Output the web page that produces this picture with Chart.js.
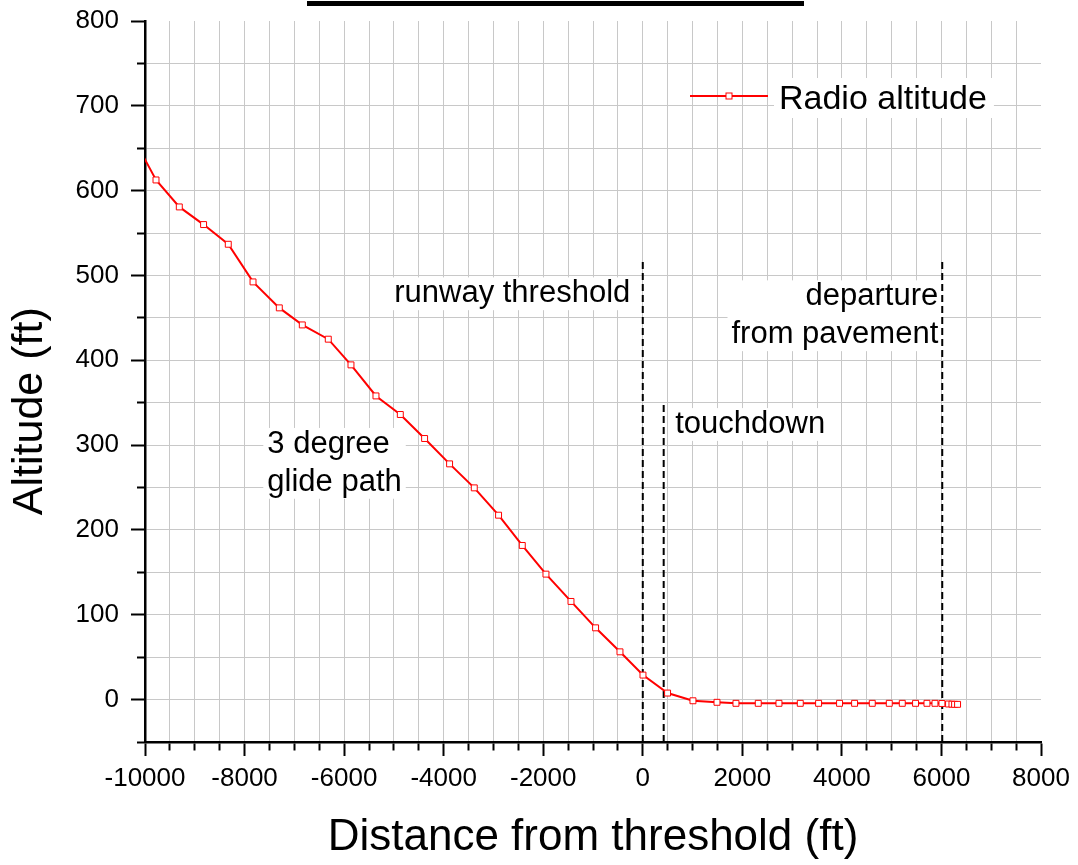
<!DOCTYPE html>
<html>
<head>
<meta charset="utf-8">
<script src="https://cdn.jsdelivr.net/npm/chart.js@4.4.1/dist/chart.umd.min.js"></script>
<style>
  html, body { margin: 0; padding: 0; background: #fff; }
</style>
</head>
<body>
<canvas id="alt_chart" width="1078" height="865"></canvas>
<script>
const FONT = '"Liberation Sans", Arial, Helvetica, sans-serif';

// samples: distance from runway threshold (ft) and radio altitude (ft)
const distance = [
  -10250, -9779, -9311, -8823, -8327, -7830, -7302, -6840, -6318, -5862,
  -5360, -4871, -4383, -3881, -3385, -2897, -2421, -1945, -1442, -948,
  -458, 4, 498, 1008, 1491, 1872, 2320, 2736, 3164, 3532,
  3953, 4255, 4610, 4952, 5213, 5480, 5709, 5870, 6010, 6143,
  6211, 6264, 6324
];
const radioAlt = [
  664, 612.6, 580.8, 560, 536.8, 492.4, 461.8, 441.7, 424.9, 394.6,
  358, 336.1, 307.8, 277.9, 249.6, 217.4, 181.7, 147.9, 115.7, 84.6,
  56.3, 28.9, 7.7, -1.4, -3.2, -4.4, -4.4, -4.4, -4.4, -4.4,
  -4.4, -4.4, -4.4, -4.4, -4.4, -4.4, -4.4, -4.4, -4.6, -5.2,
  -5.4, -5.6, -5.6
];

// dashed reference lines: runway threshold, touchdown, departure from pavement
const refX = [0, 420, 6016];
const refTop = [516, 350, 516];

const xTickLabels = [-10000, -8000, -6000, -4000, -2000, 0, 2000, 4000, 6000, 8000];
const yTickLabels = [0, 100, 200, 300, 400, 500, 600, 700, 800];

const SERIES_NAME = 'Radio altitude';
const Y_TITLE = 'Altitude (ft)';
const RED = '#ff0000';

// text notes, anchored in data units
const notes = [
  { lines: ['runway threshold'], x: -251, y: 468.5, align: 'right' },
  { lines: ['departure', 'from pavement'], x: 5936, y: 465, align: 'right' },
  { lines: ['touchdown'], x: 652, y: 314.4, align: 'left' },
  { lines: ['3 degree', 'glide path'], x: -7543, y: 291, align: 'left' }
];

const datasets = [{
  label: SERIES_NAME,
  data: distance.map((d, i) => ({ x: d, y: radioAlt[i] })),
  borderColor: RED,
  borderWidth: 2,
  pointStyle: 'rect',
  pointRadius: 4.2,
  pointBorderWidth: 1,
  pointBorderColor: RED,
  pointBackgroundColor: '#fff',
  tension: 0,
  order: 1
}];
refX.forEach((x, i) => {
  datasets.push({
    label: 'ref' + i,
    data: [{ x: x, y: -50 }, { x: x, y: refTop[i] }],
    borderColor: '#000',
    borderWidth: 2,
    borderDash: [7, 4],
    pointRadius: 0,
    order: 2
  });
});

// white-backed text notes, drawn under the lines
const notesPlugin = {
  id: 'notes',
  beforeDatasetsDraw(chart) {
    const { ctx, scales } = chart;
    const size = 31, lh = 38;
    ctx.save();
    ctx.font = size + 'px ' + FONT;
    ctx.textBaseline = 'alphabetic';
    notes.forEach(n => {
      const px = scales.x.getPixelForValue(n.x);
      const py = scales.y.getPixelForValue(n.y);
      const w = Math.max(...n.lines.map(t => ctx.measureText(t).width));
      const left = n.align === 'right' ? px - w : px;
      ctx.fillStyle = '#fff';
      ctx.fillRect(left - 4, py - size * 0.8, w + 8, size * 0.8 + (n.lines.length - 1) * lh + 8);
      ctx.fillStyle = '#000';
      ctx.textAlign = n.align;
      n.lines.forEach((t, k) => ctx.fillText(t, px, py + k * lh));
    });
    ctx.restore();
  }
};

// legend inside the plot, top right
const legendPlugin = {
  id: 'insideLegend',
  afterDatasetsDraw(chart) {
    const { ctx, chartArea } = chart;
    const ds = chart.data.datasets[0];
    const x0 = chartArea.right - 351, x1 = chartArea.right - 273;
    const y = chartArea.top + 75;
    ctx.save();
    ctx.font = '34px ' + FONT;
    const tw = ctx.measureText(ds.label).width;
    ctx.fillStyle = '#fff';
    ctx.fillRect(x1 + 6, y - 18, tw + 12, 40);
    ctx.strokeStyle = ds.borderColor;
    ctx.lineWidth = ds.borderWidth;
    ctx.beginPath();
    ctx.moveTo(x0, y);
    ctx.lineTo(x1, y);
    ctx.stroke();
    const mx = (x0 + x1) / 2;
    ctx.fillStyle = '#fff';
    ctx.lineWidth = 1;
    ctx.fillRect(mx - 3, y - 3, 6, 6);
    ctx.strokeRect(mx - 3, y - 3, 6, 6);
    ctx.fillStyle = '#000';
    ctx.textAlign = 'left';
    ctx.textBaseline = 'alphabetic';
    ctx.fillText(ds.label, x1 + 11, y + 13);
    ctx.restore();
  }
};

// y title sits a little below the middle of the axis, so it is drawn here
const yTitlePlugin = {
  id: 'yTitle',
  afterDraw(chart) {
    const ctx = chart.ctx;
    const y = chart.scales.y.getPixelForValue(340);
    ctx.save();
    ctx.translate(30, y);
    ctx.rotate(-Math.PI / 2);
    ctx.font = '43px ' + FONT;
    ctx.fillStyle = '#000';
    ctx.textAlign = 'center';
    ctx.textBaseline = 'middle';
    ctx.fillText(Y_TITLE, 0, 0);
    ctx.restore();
  }
};

// heavy rule across the top of the figure
const topRule = {
  id: 'topRule',
  afterDraw(chart) {
    const ctx = chart.ctx;
    ctx.save();
    ctx.fillStyle = '#000';
    ctx.fillRect(307, 1, 497, 5);
    ctx.restore();
  }
};

const GRID = '#c8c8c8';
const clear = 'rgba(0,0,0,0)';

new Chart(document.getElementById('alt_chart'), {
  type: 'line',
  data: { datasets: datasets },
  options: {
    responsive: false,
    animation: false,
    devicePixelRatio: 1,
    layout: { padding: { top: 21, right: 37, bottom: 0, left: 0 } },
    plugins: {
      legend: { display: false },
      tooltip: { enabled: false }
    },
    scales: {
      x: {
        type: 'linear',
        min: -10000,
        max: 8000,
        ticks: {
          stepSize: 500,
          autoSkip: false,
          maxRotation: 0,
          padding: 7,
          color: '#000',
          font: { family: FONT, size: 26 },
          callback: v => xTickLabels.includes(v) ? String(v) : ''
        },
        grid: {
          color: c => (c.tick && c.tick.value === 8000) ? clear : GRID,
          lineWidth: 1,
          tickLength: 14,
          tickWidth: 2,
          tickColor: '#000',
          tickBorderDash: c => (c.tick && c.tick.value % 2000 === 0) ? [] : [7, 100]
        },
        border: { color: '#000', width: 2.5 },
        title: {
          display: true,
          text: 'Distance from threshold (ft)',
          color: '#000',
          font: { family: FONT, size: 44 },
          padding: { top: 0, bottom: 1 }
        },
        afterFit: s => { s.height = 123; s.paddingLeft = 0; s.paddingRight = 0; }
      },
      y: {
        type: 'linear',
        min: -50,
        max: 800,
        ticks: {
          stepSize: 50,
          autoSkip: false,
          padding: 12,
          color: '#000',
          font: { family: FONT, size: 26 },
          callback: v => yTickLabels.includes(v) ? String(v) : ''
        },
        grid: {
          color: c => (c.tick && c.tick.value === 800) ? clear : GRID,
          lineWidth: 1,
          tickLength: 14,
          tickWidth: 2,
          tickColor: '#000',
          tickBorderDash: c => (c.tick && c.tick.value % 100 === 0) ? [] : [0, 6, 7, 100]
        },
        border: { color: '#000', width: 2.5 },
        afterFit: s => { s.width = 145; s.paddingTop = 0; s.paddingBottom = 0; }
      }
    }
  },
  plugins: [notesPlugin, legendPlugin, yTitlePlugin, topRule]
});
</script>
</body>
</html>
